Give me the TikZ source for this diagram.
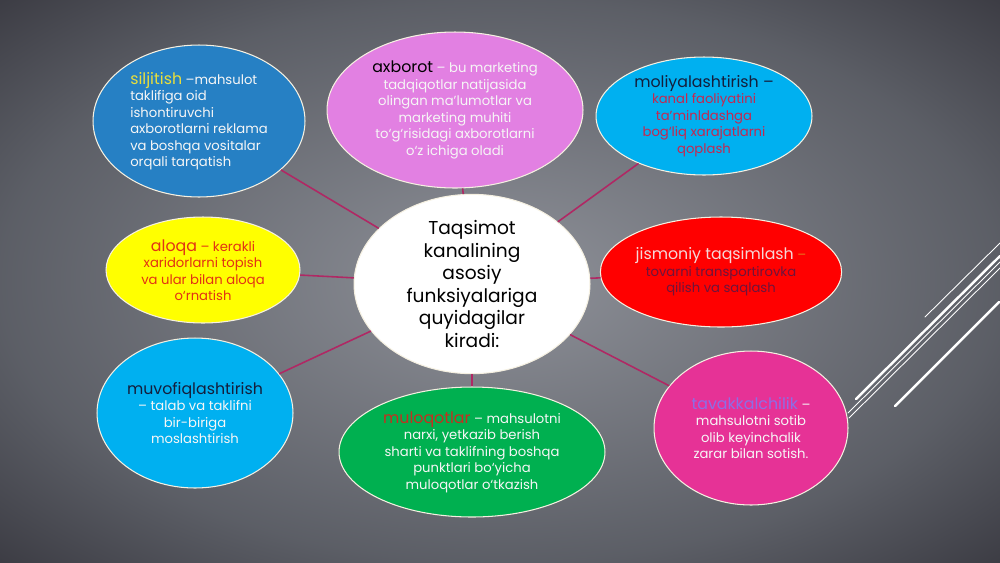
\documentclass[tikz,border=0pt]{standalone}
\usepackage{fontspec}
\setmainfont{Poppins}
\usetikzlibrary{shapes.geometric}

\definecolor{linkred}{RGB}{176,40,100}
\definecolor{rimwhite}{RGB}{245,240,225}
\definecolor{sblue}{RGB}{38,128,196}
\definecolor{xpink}{RGB}{226,128,226}
\definecolor{mcyan}{RGB}{0,176,240}
\definecolor{ayellow}{RGB}{255,255,0}
\definecolor{jred}{RGB}{255,0,0}
\definecolor{lgreen}{RGB}{0,176,80}
\definecolor{tmagenta}{RGB}{230,50,150}
\definecolor{sword}{RGB}{232,222,60}
\definecolor{mword}{RGB}{20,30,60}
\definecolor{mtext}{RGB}{196,40,80}
\definecolor{atext}{RGB}{226,50,20}
\definecolor{jword}{RGB}{245,215,215}
\definecolor{jdash}{RGB}{230,120,30}
\definecolor{jtext}{RGB}{110,20,60}
\definecolor{lword}{RGB}{196,48,32}
\definecolor{tword}{RGB}{140,110,230}
\definecolor{soft}{RGB}{246,246,246}

\pgfdeclareradialshading{slidebg}{\pgfpoint{0bp}{0bp}}{%
  rgb(0bp)=(0.56,0.57,0.60); rgb(25bp)=(0.36,0.37,0.40);
  rgb(36bp)=(0.23,0.23,0.26); rgb(50bp)=(0.23,0.23,0.26)}

\begin{document}
\begin{tikzpicture}
[
	              x = 0.02cm,
	              y = -0.02cm,
	     blob/.style = { ellipse, draw=rimwhite, line width=0.6pt, inner sep=0pt,
	                     align=center, text=soft, font=\fontsize{7.5}{9.4}\selectfont },
	     link/.style = { draw=linkred, line width=0.9pt },
	     deco/.style = { draw=white, line cap=round }
]
	% background
	\shade [shading=slidebg] (0,0) rectangle (1000,562);
	\useasboundingbox (0,0) rectangle (1000,562);

	% decoration lines
	\draw [deco, line width=0.5pt] (925,317) -- (1000,243);
	\draw [deco, line width=1.4pt] (856,399) -- (1000,256);
	\draw [deco, line width=0.5pt] (848,413) -- (1000,262);
	\draw [deco, line width=0.5pt] (849,418) -- (1000,268);
	\draw [deco, line width=1.4pt] (895,406) -- (999,302);

	% nodes
	\node  (C) at (472,284) [blob, fill=white, text=black, minimum width=4.72cm, minimum height=3.44cm,
	                         font=\fontsize{10.6}{12.8}\selectfont]
	       {Taqsimot\\kanalining\\asosiy\\funksiyalariga\\quyidagilar\\kiradi:};
	\node  (S) at (199,121) [blob, fill=sblue, minimum width=4.24cm, minimum height=3.04cm, align=left]
	       {{\color{sword}\fontsize{9}{9.4}\selectfont siljitish} –mahsulot\\taklifiga oid\\ishontiruvchi\\axborotlarni reklama\\va boshqa vositalar\\orqali tarqatish};
	\node  (X) at (455,110) [blob, fill=xpink, minimum width=5.12cm, minimum height=3.12cm]
	       {{\color{black}\fontsize{9}{9.4}\selectfont axborot} – bu marketing\\tadqiqotlar natijasida\\olingan ma’lumotlar va\\marketing muhiti\\to‘g‘risidagi axborotlarni\\o‘z ichiga oladi};
	\node  (M) at (704,116) [blob, fill=mcyan, text=mtext, minimum width=4.32cm, minimum height=2.36cm]
	       {{\color{mword}\fontsize{9}{9.4}\selectfont moliyalashtirish –}\\kanal faoliyatini\\ta’minldashga\\bog‘liq xarajatlarni\\qoplash};
	\node  (A) at (203,270) [blob, fill=ayellow, text=atext, minimum width=3.88cm, minimum height=2.12cm]
	       {{\fontsize{9}{9.4}\selectfont aloqa} – kerakli\\xaridorlarni topish\\va ular bilan aloqa\\o‘rnatish};
	\node  (J) at (721,272) [blob, fill=jred, text=jtext, minimum width=4.36cm, minimum height=2.2cm]
	       {{\color{jword}\fontsize{9}{9.4}\selectfont jismoniy taqsimlash} {\color{jdash}–}\\tovarni transportirovka\\qilish va saqlash};
	\node  (V) at (195,413) [blob, fill=mcyan, minimum width=3.92cm, minimum height=3.0cm]
	       {{\color{mword}\fontsize{9}{9.4}\selectfont muvofiqlashtirish}\\– talab va taklifni\\bir-biriga\\moslashtirish};
	\node  (L) at (472,452) [blob, fill=lgreen, minimum width=5.32cm, minimum height=2.6cm]
	       {{\color{lword}\fontsize{9}{9.4}\selectfont muloqotlar} – mahsulotni\\narxi, yetkazib berish\\sharti va taklifning boshqa\\punktlari bo‘yicha\\muloqotlar o‘tkazish};
	\node  (T) at (751,428) [blob, fill=tmagenta, minimum width=3.88cm, minimum height=3.08cm]
	       {{\color{tword}\fontsize{9}{9.4}\selectfont tavakkalchilik} –\\mahsulotni sotib\\olib keyinchalik\\zarar bilan sotish.};

	% edges
	\draw [link] (C) edge (S) (C) edge (X) (C) edge (M) (C) edge (A);
	\draw [link] (C) edge (J) (C) edge (V) (C) edge (L) (C) edge (T);
\end{tikzpicture}
\end{document}
